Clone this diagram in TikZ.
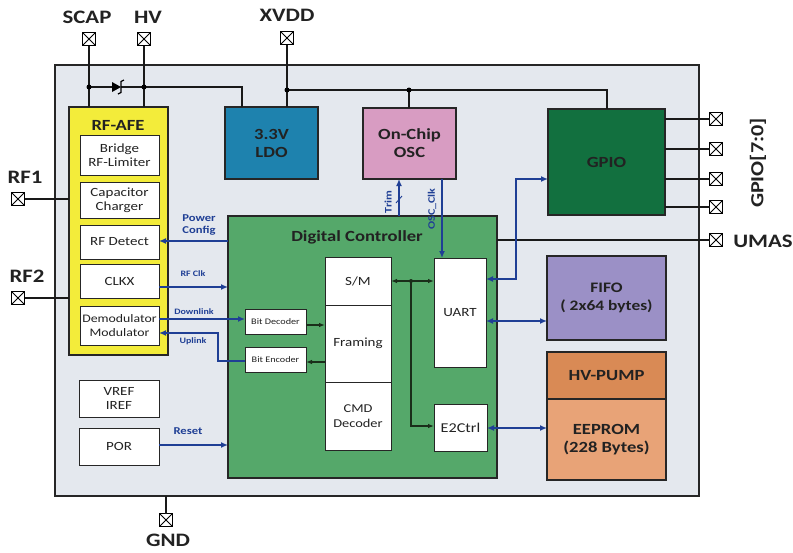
\documentclass[tikz,border=0pt]{standalone}
\usepackage{fontspec}
\setmainfont{Carlito}[FakeStretch=1.2]
\usetikzlibrary{arrows.meta}
\definecolor{chipbg}{HTML}{E4E8EE}
\definecolor{afec}{HTML}{F3EC3A}
\definecolor{ldoc}{HTML}{1E82AE}
\definecolor{oscc}{HTML}{D89CC2}
\definecolor{dcc}{HTML}{55A86A}
\definecolor{gpioc}{HTML}{12703F}
\definecolor{fifoc}{HTML}{9B90C6}
\definecolor{pumpc}{HTML}{D98A55}
\definecolor{eepc}{HTML}{E8A377}
\definecolor{sigblue}{HTML}{1F3F95}
\definecolor{darkln}{HTML}{1A2E1A}
\definecolor{txt}{HTML}{222222}
\begin{document}
\begin{tikzpicture}[x=1pt,y=-1pt,
  box/.style={draw=black!85, line width=1.2pt, inner sep=1pt, outer sep=0pt, align=center, anchor=north west, text=txt},
  wbox/.style={box, fill=white, line width=1pt},
  pad/.style={draw=black, line width=1.3pt, minimum size=13pt, inner sep=0pt, outer sep=0pt, fill=white,
    path picture={\draw[line width=1pt] (path picture bounding box.north west) -- (path picture bounding box.south east)
      (path picture bounding box.north east) -- (path picture bounding box.south west);}},
  padlbl/.style={font=\fontsize{19}{19}\selectfont\bfseries, text=txt, inner sep=0pt},
  ttl/.style={font=\fontsize{15.5}{18}\selectfont\bfseries, text=txt, align=center},
  inn/.style={font=\fontsize{12.5}{14}\selectfont, text=txt, align=center},
  bl/.style={draw=sigblue, line width=1.4pt},
  blt/.style={font=\fontsize{10.5}{12}\selectfont\bfseries, text=sigblue, align=center, inner sep=0pt},
  blts/.style={blt, font=\fontsize{8.3}{10}\selectfont\bfseries},
  bar/.style={-{Latex[length=7pt,width=6pt]}},
  dbar/.style={{Latex[length=7pt,width=6pt]}-{Latex[length=7pt,width=6pt]}},
  dk/.style={draw=darkln, line width=1.1pt},
  dka/.style={-{Latex[length=6pt,width=4.5pt]}},
  dkd/.style={{Latex[length=6pt,width=4.5pt]}-{Latex[length=6pt,width=4.5pt]}},
  bk/.style={draw=black!90, line width=1.2pt},
  dot/.style={circle, fill=black, inner sep=0pt, minimum size=5pt}
]
\useasboundingbox (0,0) rectangle (793,552);
\fill[white] (0,0) rectangle (793,552);
% chip outline
\node[box, fill=chipbg, line width=1.5pt, minimum width=644pt, minimum height=431pt] (chip) at (55,65) {};

% blocks
\node[box, fill=afec, minimum width=99pt, minimum height=248pt] (afe) at (69,107) {};
\node[ttl] (afet) at (118,125) {RF-AFE};
\node[wbox, minimum width=79pt, minimum height=40pt] (brl) at (80,135) {};
\node[inn] at (brl.center) {Bridge\\RF-Limiter};
\node[wbox, minimum width=79pt, minimum height=36pt] (cch) at (80,182) {};
\node[inn] at (cch.center) {Capacitor\\Charger};
\node[wbox, minimum width=79pt, minimum height=34pt] (rfd) at (80,225) {};
\node[inn] at (rfd.center) {RF Detect};
\node[wbox, minimum width=79pt, minimum height=34pt] (clkx) at (80,264) {};
\node[inn] at (clkx.center) {CLKX};
\node[wbox, minimum width=79pt, minimum height=39pt] (dem) at (80,306) {};
\node[inn, font=\fontsize{11.5}{13.5}\selectfont] at (dem.center) {Demodulator\\Modulator};

\node[wbox, minimum width=80pt, minimum height=37pt] (vref) at (79,380) {};
\node[inn] at (vref.center) {VREF\\IREF};
\node[wbox, minimum width=80pt, minimum height=37pt] (por) at (79,428) {};
\node[inn] at (por.center) {POR};

\node[box, fill=ldoc, minimum width=93pt, minimum height=72pt] (ldo) at (225,107) {};
\node[ttl] at (ldo.center) {3.3V\\LDO};
\node[box, fill=oscc, minimum width=93pt, minimum height=71pt] (osc) at (363,108) {};
\node[ttl] at (osc.center) {On-Chip\\OSC};
\node[box, fill=gpioc, minimum width=117pt, minimum height=106pt] (gpio) at (548,109) {};
\node[ttl] at (gpio.center) {GPIO};

\node[box, fill=dcc, minimum width=269pt, minimum height=262pt] (dc) at (228,216) {};
\node[ttl] at (357,237) {Digital Controller};
\node[wbox, minimum width=66pt, minimum height=48pt] (sm) at (325,257) {};
\node[inn] at (sm.center) {S/M};
\node[wbox, minimum width=66pt, minimum height=77pt] (frm) at (325,305) {};
\node[inn] at (frm.center) {Framing};
\node[wbox, minimum width=66pt, minimum height=68pt] (cmd) at (325,382) {};
\node[inn, font=\fontsize{12}{15}\selectfont] at (cmd.center) {CMD\\Decoder};
\node[wbox, minimum width=61pt, minimum height=25pt] (bdec) at (245,309) {};
\node[inn, font=\fontsize{8.5}{10}\selectfont] at (bdec.center) {Bit Decoder};
\node[wbox, minimum width=61pt, minimum height=25pt] (benc) at (245,347) {};
\node[inn, font=\fontsize{8.5}{10}\selectfont] at (benc.center) {Bit Encoder};
\node[wbox, minimum width=52pt, minimum height=109pt] (uart) at (434,258) {};
\node[inn] at (uart.center) {UART};
\node[wbox, minimum width=53pt, minimum height=47pt] (e2c) at (434,404) {};
\node[inn, font=\fontsize{13.5}{15}\selectfont] at (e2c.center) {E2Ctrl};

\node[box, fill=fifoc, minimum width=119pt, minimum height=84pt] (fifo) at (547,256) {};
\node[ttl, font=\fontsize{14.5}{18}\selectfont\bfseries] at (fifo.center) {FIFO\\( 2x64 bytes)};
\node[box, fill=pumpc, minimum width=119pt, minimum height=47pt] (pump) at (547,352) {};
\node[ttl] at (pump.center) {HV-PUMP};
\node[box, fill=eepc, minimum width=119pt, minimum height=81pt] (eep) at (547,399) {};
\node[ttl] at (eep.center) {EEPROM\\(228 Bytes)};

% pads
\node[pad] (pscap) at (89,39) {};
\node[pad] (phv) at (144,39) {};
\node[pad] (pxvdd) at (287,38) {};
\node[pad] (prf1) at (18,199) {};
\node[pad] (prf2) at (18,298) {};
\node[pad] (pg0) at (716,119) {};
\node[pad] (pg1) at (716,149) {};
\node[pad] (pg2) at (716,179) {};
\node[pad] (pg3) at (716,207) {};
\node[pad] (pumas) at (716,240) {};
\node[pad] (pgnd) at (166,520) {};

\node[padlbl] (lscap) at (87,17) {SCAP};
\node[padlbl] (lhv) at (148,17) {HV};
\node[padlbl] (lxvdd) at (287,15) {XVDD};
\node[padlbl] (lrf1) at (25,177) {RF1};
\node[padlbl] (lrf2) at (27,276) {RF2};
\node[padlbl, rotate=90, font=\fontsize{18.5}{18.5}\selectfont\bfseries] (lgpio) at (758,163) {GPIO[7:0]};
\node[padlbl] (lumas) at (763,241) {UMAS};
\node[padlbl] (lgnd) at (168,540) {GND};

% power wiring
\coordinate (jscap) at (89,87);
\coordinate (jhv) at (144,87);
\coordinate (jx) at (287,90);
\coordinate (josc) at (409,90);
\draw[bk] (pscap.south) -- (pscap.south |- afe.north);
\draw[bk] (phv.south) -- (phv.south |- afe.north);
\draw[bk] (jscap) -- (112,87);
\draw[bk] (121,87) -- (jhv) -- (242,87) -- (242,107);
\fill[black] (112,82) -- (112,92) -- (121,87) -- cycle;
\draw[line width=1.3pt] (124,80) -- (121,81.5) -- (121,92.5) -- (118,94);
\node[dot] at (jscap) {};
\node[dot] at (jhv) {};
\draw[bk] (pxvdd.south) -- (pxvdd.south |- ldo.north);
\draw[bk] (jx) -- (607,90) -- (607,109);
\draw[bk] (josc) -- (josc |- osc.north);
\node[dot] at (jx) {};
\node[dot] at (josc) {};

% pins
\draw[bk] (prf1.east) -- (prf1.east -| afe.west);
\draw[bk] (prf2.east) -- (prf2.east -| afe.west);
\draw[bk] (gpio.east |- pg0) -- (pg0.west);
\draw[bk] (gpio.east |- pg1) -- (pg1.west);
\draw[bk] (gpio.east |- pg2) -- (pg2.west);
\draw[bk] (gpio.east |- pg3) -- (pg3.west);
\draw[bk] (dc.east |- pumas) -- (pumas.west);
\draw[bk] (pgnd.north |- chip.south) -- (pgnd.north);

% blue signals
\draw[bl, bar] (dc.west |- 0,241) -- (rfd.east |- 0,241);
\node[blt] at (199,225) {Power\\Config};
\draw[bl, bar] (clkx.east |- 0,287) -- (dc.west |- 0,287);
\node[blts] at (193,274) {RF Clk};
\draw[bl, bar] (dem.east |- 0,319) -- (bdec.west |- 0,319);
\node[blts] at (194,312) {Downlink};
\draw[bl, bar] (benc.west |- 0,361) -- (218,361) -- (218,333) -- (dem.east |- 0,333);
\node[blts] at (193,341) {Uplink};
\draw[bl, bar] (por.east |- 0,445) -- (dc.west |- 0,445);
\node[blt] at (188,431) {Reset};
\draw[bl, bar] (399,216) -- (399,179);
\draw[sigblue, line width=0.9pt] (396,203) -- (402,196);
\node[blt, rotate=90, font=\fontsize{10}{11}\selectfont\bfseries] at (388,202) {Trim};
\draw[bl, bar] (442,179) -- (442,258);
\node[blt, rotate=90, font=\fontsize{10}{11}\selectfont\bfseries] at (432,209) {OSC\_Clk};
\draw[bl, dbar] (uart.east |- 0,279) -- (516,279) -- (516,179) -- (gpio.west |- 0,179);
\draw[bl, dbar] (uart.east |- 0,321) -- (fifo.west |- 0,321);
\draw[bl, dbar] (e2c.east |- 0,428) -- (eep.west |- 0,428);

% internal dark signals
\draw[dk, dkd] (sm.east |- 0,281) -- (uart.west |- 0,281);
\draw[dk, dka] (411,281) -- (411,426) -- (e2c.west |- 0,426);
\node[dot, minimum size=4pt, fill=darkln] at (411,281) {};
\draw[dk, dka] (bdec.east |- 0,325) -- (frm.west |- 0,325);
\draw[dk, dka] (frm.west |- 0,362) -- (benc.east |- 0,362);
\end{tikzpicture}
\end{document}
